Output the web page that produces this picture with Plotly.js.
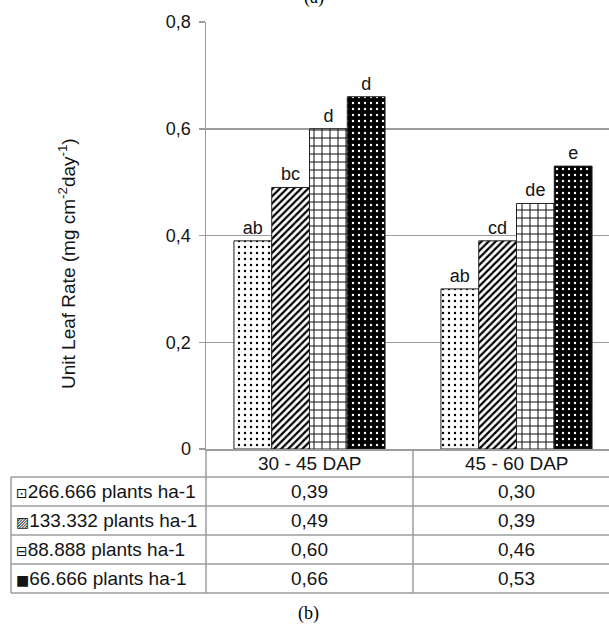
<!DOCTYPE html>
<html><head><meta charset="utf-8">
<script src="https://cdn.plot.ly/plotly-3.0.1.min.js"></script>
<style>body{margin:0;background:#fff}</style></head>
<body><div id="chart" style="width:609px;height:628px"></div>
<script>
// ---- data ----
const categories = ['30 - 45 DAP', '45 - 60 DAP'];
const seriesNames = ['266.666 plants ha-1', '133.332 plants ha-1', '88.888 plants ha-1', '66.666 plants ha-1'];
const s266 = [0.39, 0.30];
const s133 = [0.49, 0.39];
const s88  = [0.60, 0.46];
const s66  = [0.66, 0.53];
const letters266 = ['ab', 'ab'];
const letters133 = ['bc', 'cd'];
const letters88  = ['d', 'de'];
const letters66  = ['d', 'e'];
const yTickVals = [0, 0.2, 0.4, 0.6, 0.8];
const yTickText = ['0', '0,2', '0,4', '0,6', '0,8'];
const yTitle = 'Unit Leaf Rate (mg cm<sup>-2</sup>day<sup>-1</sup>)';
const legendIcons = ['⊡', '▨', '⊟', '■'];

// ---- layout helpers ----
const W = 609, H = 628;
const mL = 206, mR = 0, mT = 22, mB = 179;
const plotW = W - mL - mR, plotH = H - mT - mB;
const xRange = [-0.5, -0.5 + plotW / 207];
const px = v => (v - mL) / plotW;          // pixel x -> paper
const py = v => (H - mB - v) / plotH;      // pixel y -> paper
const dx2paper = d => (d - xRange[0]) / (xRange[1] - xRange[0]);

const FONT = 'Liberation Sans, Arial, sans-serif';
const gridCol = '#9c9c9c';
const TXT = '#141414';

const patterns = [
  {shape: '.', fgcolor: '#000', bgcolor: '#fff', size: 6, solidity: 0.12},
  {shape: '/', fgcolor: '#000', bgcolor: '#fff', size: 5, solidity: 0.45},
  {shape: '+', fgcolor: '#000', bgcolor: '#fff', size: 8, solidity: 0.22},
  {shape: '.', fgcolor: '#fff', bgcolor: '#000', size: 6, solidity: 0.12}
];
const seriesVals = [s266, s133, s88, s66];
const seriesLetters = [letters266, letters133, letters88, letters66];

const traces = seriesVals.map((vals, i) => ({
  type: 'bar',
  name: seriesNames[i],
  x: categories,
  y: vals,
  text: seriesLetters[i],
  textposition: 'outside',
  cliponaxis: false,
  textfont: {family: FONT, size: 18, color: TXT},
  marker: {color: patterns[i].bgcolor, pattern: patterns[i], line: {color: '#222', width: 1}},
  hoverinfo: 'skip'
}));

// ---- table (shapes + annotations) ----
const rowTops = [477, 506, 535, 564, 593];
const shapes = [];
const lineStyle = {color: gridCol, width: 1.5};
rowTops.forEach(y => shapes.push({type: 'line', xref: 'paper', yref: 'paper', x0: px(11), x1: 1, y0: py(y), y1: py(y), line: lineStyle}));
shapes.push({type: 'line', xref: 'paper', yref: 'paper', x0: px(11), x1: px(11), y0: py(477), y1: py(593), line: lineStyle});
shapes.push({type: 'line', xref: 'paper', yref: 'paper', x0: 0, x1: 0, y0: py(449), y1: py(593), line: lineStyle});
shapes.push({type: 'line', xref: 'paper', yref: 'paper', x0: dx2paper(0.5), x1: dx2paper(0.5), y0: py(449), y1: py(593), line: lineStyle});

const annotations = [];
categories.forEach((c, j) => annotations.push({
  xref: 'x', yref: 'paper', x: j, y: py(463), text: c, showarrow: false,
  font: {family: FONT, size: 19, color: TXT}, xanchor: 'center', yanchor: 'middle'
}));
seriesNames.forEach((n, i) => {
  const yc = py((rowTops[i] + rowTops[i + 1]) / 2);
  annotations.push({
    xref: 'paper', yref: 'paper', x: px(14), y: yc, xanchor: 'left', yanchor: 'middle', showarrow: false,
    text: '<span style="font-family:DejaVu Sans;font-size:14px">' + legendIcons[i] + '</span>' + n,
    font: {family: FONT, size: 19, color: TXT}
  });
  seriesVals[i].forEach((v, j) => annotations.push({
    xref: 'x', yref: 'paper', x: j, y: yc, xanchor: 'center', yanchor: 'middle', showarrow: false,
    text: v.toFixed(2).replace('.', ','), font: {family: FONT, size: 19, color: TXT}
  }));
});
// y-axis title (placed as rotated annotation to match the reference position)
annotations.push({xref: 'paper', yref: 'paper', x: px(67), y: py(264), text: yTitle, textangle: -90,
  showarrow: false, xanchor: 'center', yanchor: 'middle', font: {family: FONT, size: 19, color: TXT}});
annotations.push({xref: 'paper', yref: 'paper', x: px(314), y: py(10), text: '(a)', showarrow: false,
  xanchor: 'center', yanchor: 'bottom', font: {family: 'Liberation Serif, Times New Roman, serif', size: 18, color: '#000'}});
annotations.push({xref: 'paper', yref: 'paper', x: px(308), y: py(613), text: '(b)', showarrow: false,
  xanchor: 'center', yanchor: 'middle', font: {family: 'Liberation Serif, Times New Roman, serif', size: 18, color: '#000'}});

const layout = {
  width: W, height: H,
  margin: {l: mL, r: mR, t: mT, b: mB, pad: 0},
  paper_bgcolor: '#fff', plot_bgcolor: '#fff',
  showlegend: false,
  barmode: 'group', bargap: 0.27, bargroupgap: 0,
  xaxis: {range: xRange, showticklabels: false, ticks: '', showgrid: false, zeroline: false,
          showline: true, linecolor: gridCol, linewidth: 1.5, fixedrange: true},
  yaxis: {range: [0, 0.8], tickvals: yTickVals, ticktext: yTickText, ticks: 'outside', ticklen: 6,
          tickcolor: gridCol, tickwidth: 1.5, showgrid: true, gridcolor: gridCol, gridwidth: 1.5,
          zeroline: false, showline: true, linecolor: gridCol, linewidth: 1.5, ticklabelstandoff: 4,
          tickfont: {family: FONT, size: 18, color: TXT}, fixedrange: true},
  shapes: shapes,
  annotations: annotations
};

Plotly.newPlot('chart', traces, layout, {staticPlot: true, displayModeBar: false});
</script>
</body></html>
